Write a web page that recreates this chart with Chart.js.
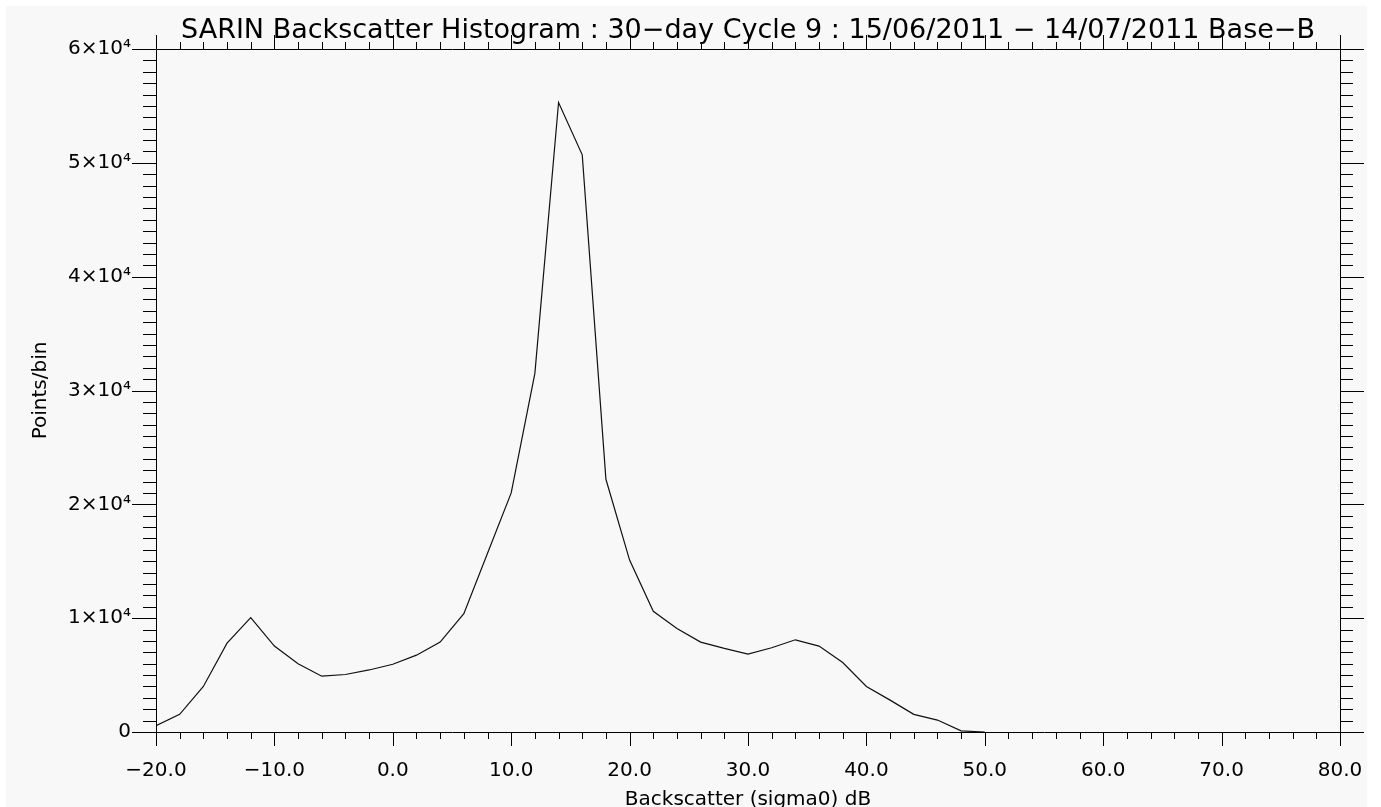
<!DOCTYPE html>
<html>
<head>
<meta charset="utf-8">
<title>SARIN Backscatter Histogram</title>
<script src="https://cdn.jsdelivr.net/npm/chart.js@4.4.1/dist/chart.umd.min.js"></script>
<style>
    body { margin: 0; background: #ffffff; }
    #wrap { width: 1381px; height: 807px; position: relative; }
</style>
</head>
<body>
<div id="wrap"><canvas id="histChart"></canvas></div>
<script>
// Histogram bins (backscatter sigma0, dB) and points per bin
const binCentres = [-20, -18, -16, -14, -12, -10, -8, -6, -4, -2, 0, 2, 4, 6, 8, 10, 12, 14, 16, 18,
    20, 22, 24, 26, 28, 30, 32, 34, 36, 38, 40, 42, 44, 46, 48, 50];
const pointsPerBin = [550, 1550, 4000, 7800, 10050, 7550, 6000, 4900, 5050, 5450, 5950, 6750, 7900, 10400, 15700, 21000, 31500, 55300, 50700, 22200,
    15100, 10600, 9100, 7900, 7350, 6850, 7400, 8100, 7550, 6100, 4000, 2800, 1550, 1050, 100, 0];

// Axis ranges / tick spacing
const xRange = [-20, 80];
const yRange = [0, 60000];
const xMajorStep = 10, xMinorStep = 2;
const yMajorStep = 10000, yMinorStep = 1000;

const titleText = 'SARIN Backscatter Histogram : 30\u2212day Cycle 9 : 15/06/2011 \u2212 14/07/2011 Base\u2212B';
const xTitle = 'Backscatter (sigma0) dB';
const yTitle = 'Points/bin';

const FONT = 'DejaVu Sans';
const INK = '#000000';
const PAPER = '#f8f8f8';

// IDL-style frame: box round the plot, ticks pointing outwards on all four sides
const framePlugin = {
    id: 'idlFrame',
    beforeDraw(chart) {
        const ctx = chart.ctx;
        ctx.save();
        ctx.fillStyle = PAPER;
        ctx.fillRect(6, 6, 1361, chart.height - 6);
        ctx.restore();
    },
    afterDraw(chart) {
        const { ctx, chartArea: a } = chart;
        const xs = chart.scales.x, ys = chart.scales.y;
        ctx.save();
        ctx.strokeStyle = INK;
        ctx.lineWidth = 1;
        ctx.beginPath();
        ctx.rect(a.left + 0.5, a.top + 0.5, a.right - a.left, a.bottom - a.top);

        // x ticks (bottom and top)
        for (let v = xs.min; v <= xs.max + 1e-9; v += xMinorStep) {
            const px = Math.round(xs.getPixelForValue(v)) + 0.5;
            const len = Math.abs(v % xMajorStep) < 1e-9 ? 14 : 7;
            ctx.moveTo(px, a.bottom); ctx.lineTo(px, a.bottom + len);
            ctx.moveTo(px, a.top); ctx.lineTo(px, a.top - len);
        }
        // y ticks (left and right)
        for (let v = ys.min; v <= ys.max + 1e-9; v += yMinorStep) {
            const py = Math.round(ys.getPixelForValue(v)) + 0.5;
            const len = Math.abs(v % yMajorStep) < 1e-9 ? 24 : 13;
            ctx.moveTo(a.left, py); ctx.lineTo(a.left - len, py);
            ctx.moveTo(a.right, py); ctx.lineTo(a.right + len, py);
        }
        ctx.stroke();

        // white margin on the right edge, as in the original image
        ctx.fillStyle = '#ffffff';
        ctx.fillRect(1367, 0, chart.width - 1367, chart.height);
        ctx.restore();
    }
};

const histData = {
    datasets: [{
        label: 'Points/bin',
        data: binCentres.map((b, i) => ({ x: b, y: pointsPerBin[i] })),
        borderColor: '#111111',
        borderWidth: 1.2,
        pointRadius: 0,
        tension: 0,
        fill: false
    }]
};

function fmtX(v) {
    return v.toFixed(1).replace('-', '\u2212');
}

function fmtY(v) {
    if (v === 0) return '0';
    return (v / 10000) + '\u00d710\u2074';
}

const histOptions = {
    responsive: true,
    maintainAspectRatio: false,
    animation: false,
    layout: {
        padding: { top: 0, right: 41, bottom: 0, left: 0 }
    },
    plugins: {
        legend: { display: false },
        tooltip: { enabled: false },
        title: {
            display: true,
            fullSize: false, // centre over the plot box, not the whole canvas
            text: titleText,
            color: INK,
            font: { family: FONT, size: 27, weight: 'normal', lineHeight: 1.2 },
            padding: { top: 14.5, bottom: 2.1 }
        }
    },
    scales: {
        x: {
            type: 'linear',
            min: xRange[0],
            max: xRange[1],
            grid: { display: false, drawTicks: false },
            border: { display: false },
            ticks: {
                stepSize: xMajorStep,
                color: INK,
                padding: 27,
                maxRotation: 0,
                autoSkip: false,
                font: { family: FONT, size: 20 },
                callback: fmtX
            },
            title: {
                display: true,
                text: xTitle,
                color: INK,
                font: { family: FONT, size: 20, lineHeight: 1 },
                padding: { top: 0, bottom: -3 }
            },
            afterFit(scale) {
                scale.height = 75;
                scale.paddingLeft = 0;
                scale.paddingRight = 0;
            }
        },
        y: {
            min: yRange[0],
            max: yRange[1],
            grid: { display: false, drawTicks: false },
            border: { display: false },
            ticks: {
                stepSize: yMajorStep,
                color: INK,
                padding: 25,
                autoSkip: false,
                font: { family: FONT, size: 20 },
                callback: fmtY
            },
            title: {
                display: true,
                text: yTitle,
                color: INK,
                font: { family: FONT, size: 20, lineHeight: 1 },
                padding: { top: 31, bottom: 0 }
            },
            afterFit(scale) {
                scale.width = 156;
                scale.paddingTop = 0;
                scale.paddingBottom = 0;
            }
        }
    }
};

document.addEventListener('DOMContentLoaded', function () {
    const ctx = document.getElementById('histChart').getContext('2d');
    window.histChart = new Chart(ctx, {
        type: 'line',
        data: histData,
        options: histOptions,
        plugins: [framePlugin]
    });
});
</script>
</body>
</html>
